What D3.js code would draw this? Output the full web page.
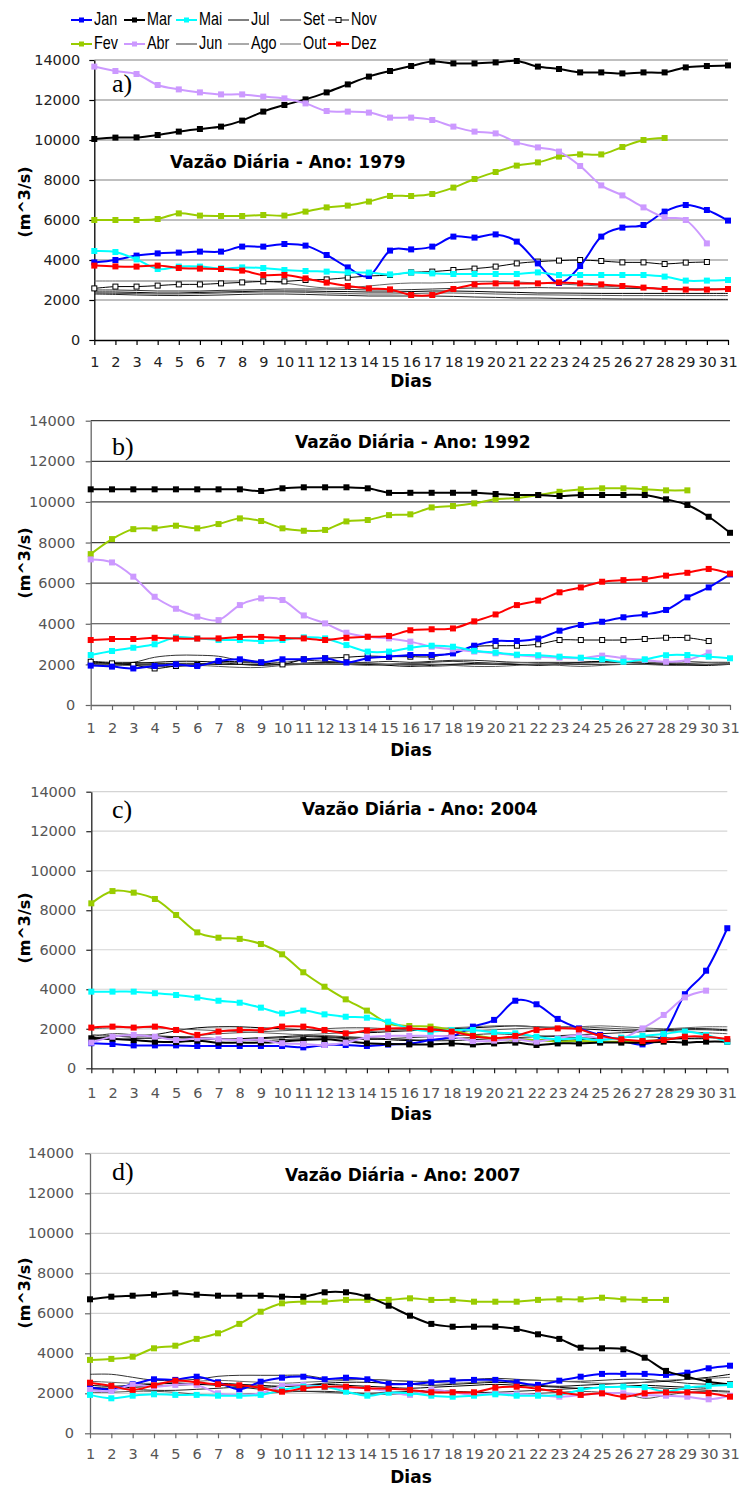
<!DOCTYPE html>
<html>
<head>
<meta charset="utf-8">
<script src="https://cdn.jsdelivr.net/npm/d3@7"></script>
<style>
  body { margin: 0; background: #fff; }
  svg { display: block; }
</style>
</head>
<body>
<svg id="chart" width="739" height="1488"></svg>
<script>
// month names, in legend order
var months = ['Jan', 'Fev', 'Mar', 'Abr', 'Mai', 'Jun', 'Jul', 'Ago', 'Set', 'Out', 'Nov', 'Dez'];
var years = [1979, 1992, 2004, 2007];
var panelLetters = ['a)', 'b)', 'c)', 'd)'];
var yTicks = [0, 2000, 4000, 6000, 8000, 10000, 12000, 14000];
var days = d3.range(1, 32);

// daily flow (m^3/s), one row per month Jan..Dez
var flow1979 = [
  [3880,4000,4220,4330,4370,4420,4420,4670,4670,4800,4720,4250,3630,3200,4470,4530,4670,5170,5120,5280,4920,3830,2850,3700,5170,5620,5750,6420,6750,6500,5970],
  [6000,6000,6000,6050,6330,6220,6200,6200,6250,6220,6420,6630,6720,6920,7200,7200,7300,7620,8050,8400,8720,8880,9170,9280,9280,9650,10000,10100],
  [10050,10120,10130,10250,10420,10550,10670,10970,11420,11750,12030,12380,12780,13170,13450,13700,13920,13830,13830,13880,13950,13670,13550,13380,13380,13330,13380,13380,13630,13700,13730],
  [13670,13450,13300,12750,12530,12380,12280,12280,12170,12080,11830,11450,11420,11370,11120,11120,11000,10670,10420,10330,9880,9630,9420,8700,7730,7230,6630,6130,6000,4830],
  [4450,4400,4030,3550,3670,3670,3580,3630,3600,3500,3450,3420,3380,3370,3280,3370,3330,3300,3300,3300,3300,3380,3250,3250,3250,3250,3250,3170,2970,2970,3000],
  [2500,2500,2480,2450,2450,2450,2480,2500,2520,2550,2550,2550,2530,2500,2500,2520,2550,2580,2600,2600,2600,2620,2600,2600,2600,2580,2570,2560,2550,2550,2550],
  [2400,2400,2380,2350,2350,2380,2400,2420,2450,2450,2450,2430,2420,2400,2400,2420,2450,2450,2430,2400,2380,2350,2350,2340,2330,2330,2330,2330,2330,2330,2330],
  [2350,2330,2320,2300,2300,2320,2350,2380,2400,2400,2380,2350,2320,2300,2300,2320,2350,2350,2330,2300,2280,2260,2250,2240,2230,2220,2220,2220,2220,2220,2220],
  [2300,2280,2250,2230,2220,2230,2250,2280,2300,2300,2280,2250,2230,2200,2200,2200,2200,2180,2150,2130,2100,2100,2080,2070,2060,2050,2050,2040,2030,2030,2030],
  [2950,2950,2950,2950,2950,2950,2950,2950,2930,2850,2700,2600,2620,2700,2800,2850,2850,2880,2930,2930,2900,2850,2800,2750,2700,2650,2620,2580,2560,2550,2550],
  [2580,2670,2670,2720,2780,2780,2830,2880,2930,2930,3000,3030,3120,3200,3250,3380,3420,3500,3570,3670,3830,3920,3970,4000,3950,3880,3880,3800,3870,3900],
  [3720,3680,3670,3720,3600,3570,3550,3470,3250,3250,3080,2870,2700,2580,2530,2250,2250,2550,2780,2830,2830,2830,2880,2830,2780,2700,2620,2550,2520,2520,2550]
];

var flow1992 = [
  [1940,1890,1800,1920,2000,1920,2170,2250,2100,2250,2250,2300,2090,2300,2380,2460,2460,2540,2920,3150,3150,3270,3660,3940,4100,4320,4460,4680,5300,5790,6430],
  [7430,8170,8660,8700,8830,8700,8910,9190,9060,8700,8580,8620,9040,9110,9350,9390,9730,9800,9930,10130,10190,10340,10500,10620,10670,10670,10630,10570,10570],
  [10620,10620,10620,10620,10620,10620,10620,10620,10540,10670,10720,10720,10720,10670,10450,10450,10450,10450,10450,10390,10340,10340,10290,10340,10340,10340,10340,10130,9850,9270,8480],
  [7170,7020,6320,5330,4740,4350,4180,4920,5250,5170,4410,4020,3560,3360,3280,3120,2870,2740,2630,2540,2450,2380,2330,2300,2430,2300,2220,2130,2220,2580],
  [2460,2660,2820,2990,3330,3280,3200,3200,3150,3200,3330,3280,2950,2630,2630,2820,2920,2870,2670,2580,2480,2450,2380,2330,2250,2130,2250,2450,2460,2380,2300],
  [2100,2050,2100,2350,2450,2450,2400,2200,2150,2100,2200,2150,2100,2050,2000,2050,2100,2150,2100,2050,2000,2000,2050,2100,2150,2100,2100,2050,2000,2000,2050],
  [2050,2000,2050,2100,2150,2150,2100,2000,1950,2000,2050,2100,2050,2000,1950,1900,1950,2000,2050,2050,2000,1950,2000,2100,2150,2100,2050,2000,1950,1950,2000],
  [2000,1950,1950,1900,1900,1950,1900,1850,1850,1950,2000,2050,2000,1950,2000,2050,2000,1950,1900,1900,1950,2000,1950,1900,1950,2000,2000,1950,1950,2000,2000],
  [2150,2100,2100,2050,2050,2050,2000,2000,2000,2000,2050,2100,2100,2100,2150,2100,2150,2200,2200,2150,2100,2100,2100,2100,2100,2100,2100,2100,2050,2100,2100],
  [2000,2000,1950,1950,2000,2000,2050,2100,2050,2000,2050,2000,2050,2050,2000,1950,1900,1950,2000,2050,2100,2050,2000,2050,2100,2150,2100,2100,2150,2100,2050],
  [2130,2050,1970,1800,1920,1970,2130,2130,2090,2000,2250,2300,2350,2410,2380,2380,2380,2580,2870,2920,2920,2990,3200,3200,3200,3200,3250,3310,3310,3150],
  [3200,3250,3250,3310,3270,3270,3280,3350,3350,3300,3280,3200,3310,3360,3400,3680,3730,3770,4120,4460,4920,5140,5550,5790,6070,6150,6200,6370,6510,6700,6470]
];

var flow2004 = [
  [1270,1230,1160,1160,1160,1130,1130,1130,1130,1130,1060,1180,1180,1130,1200,1250,1430,1600,2110,2450,3420,3240,2500,2020,1690,1430,1210,1700,3750,4940,7090],
  [8350,8970,8890,8570,7760,6880,6610,6550,6290,5770,4860,4130,3490,2920,2280,2140,2110,1940,1690,1520,1430,1430,1350,1380,1350,1350,1380,1430],
  [1520,1500,1430,1350,1330,1400,1300,1300,1300,1350,1430,1470,1380,1270,1230,1210,1210,1260,1210,1260,1300,1180,1260,1260,1300,1300,1300,1350,1300,1350,1350],
  [1300,1600,1690,1600,1430,1520,1470,1430,1430,1270,1230,1180,1300,1570,1640,1640,1640,1600,1380,1400,1470,1350,1520,1690,1520,1520,2020,2700,3590,3930],
  [3880,3880,3880,3800,3710,3580,3420,3320,3070,2780,2920,2730,2610,2560,2360,2020,1860,1940,1940,1810,1770,1600,1470,1520,1430,1550,1640,1740,1860,1690,1350],
  [1600,1750,1700,1650,1600,1550,1500,1450,1400,1450,1500,1550,1500,1450,1500,1550,1600,1650,1700,1750,1700,1650,1600,1550,1500,1450,1400,1450,1500,1550,1500],
  [1450,1600,1650,1700,1900,2050,2100,2100,2050,2000,1950,1900,1850,1800,1850,1900,1950,2000,2050,2100,2150,2100,2050,2000,1950,1900,1900,1950,2000,2000,1950],
  [1700,1650,1550,1500,1550,1650,1750,1800,1850,1900,1950,2000,2050,2050,2000,1950,1900,1850,1900,1950,2000,2050,2100,2100,2050,2000,1950,1900,1850,1800,1750],
  [1500,1450,1500,1550,1600,1550,1500,1450,1500,1550,1600,1650,1600,1550,1500,1450,1400,1400,1450,1500,1550,1600,1650,1700,1750,1800,1850,1900,1950,1950,1900],
  [2000,2050,2100,2050,2000,1950,1900,1850,1800,1750,1700,1750,1800,1850,1900,1950,2000,2050,2100,2150,2150,2100,2050,2100,2150,2100,2050,2000,2050,2100,2100],
  [1550,1600,1650,1600,1550,1500,1450,1500,1550,1600,1650,1600,1550,1500,1450,1400,1450,1500,1550,1550,1500,1450,1400,1450,1500,1550,1600,1550,1500,1500],
  [2060,2110,2060,2110,1940,1690,1860,1940,1940,2110,2110,1940,1770,1910,2020,2020,1970,1860,1640,1520,1640,1940,2020,1970,1640,1470,1380,1430,1600,1600,1480]
];

var flow2007 = [
  [2300,2200,2450,2700,2670,2830,2550,2200,2580,2780,2830,2700,2780,2700,2470,2470,2550,2630,2670,2670,2550,2420,2630,2830,2970,2970,2970,2920,3030,3250,3380],
  [3670,3720,3830,4250,4380,4720,5000,5470,6080,6500,6580,6580,6670,6670,6670,6750,6670,6670,6580,6580,6580,6670,6700,6700,6780,6700,6670,6670],
  [6700,6830,6880,6930,7000,6930,6880,6880,6880,6830,6830,7050,7050,6830,6380,5880,5470,5330,5330,5330,5220,4950,4720,4280,4250,4200,3780,3120,2830,2580,2450],
  [2170,2120,2420,2330,2420,2420,2000,1920,2000,2370,2420,2330,2250,2250,2080,1920,2170,2050,1920,2000,1950,1920,1830,1920,2000,2000,1920,1880,1830,1700,1880],
  [1920,1750,1880,1950,1920,1920,1880,1880,1920,2170,2330,2330,2080,1880,2030,2000,1880,1830,1880,1950,1880,1880,1920,2170,2300,2330,2300,2080,2280,2370,2420],
  [2950,2950,2800,2650,2650,2700,2850,2900,2900,2900,2900,2750,2700,2700,2650,2600,2600,2650,2700,2750,2700,2650,2600,2600,2650,2700,2700,2600,2500,2450,2400],
  [2200,2250,2300,2350,2400,2450,2500,2450,2400,2350,2400,2500,2550,2550,2500,2450,2400,2450,2500,2550,2500,2400,2350,2400,2450,2500,2550,2600,2700,2800,2950],
  [2050,2050,2100,2100,2050,1950,1900,1950,2000,2050,2100,2050,2000,1950,1950,2000,2050,2100,2050,2000,1950,2000,2050,2100,2050,2000,1750,1900,2050,2100,2050],
  [2300,2250,2200,2150,2150,2200,2250,2300,2200,2150,2100,2100,2050,2000,2050,2100,2150,2100,2050,2050,2100,2150,2200,2250,2300,2350,2300,2250,2200,2150,2100],
  [2600,2550,2500,2500,2550,2600,2650,2600,2550,2500,2550,2600,2650,2700,2650,2600,2550,2500,2550,2600,2650,2650,2600,2550,2500,2500,2550,2650,2700,2750,2800],
  [2400,2350,2400,2450,2500,2450,2400,2350,2300,2350,2400,2450,2400,2350,2300,2250,2300,2350,2400,2450,2400,2350,2300,2250,2300,2350,2400,2350,2300,2250],
  [2530,2370,2170,2400,2630,2550,2450,2400,2280,2080,2250,2330,2330,2250,2230,2170,2050,2050,2050,2280,2330,2230,2050,1920,2000,1830,2000,2050,2050,2000,1830]
];

var allFlows = [flow1979, flow1992, flow2004, flow2007];

//-----------------------------------------------------------------------------
// series look
var seriesStyle = [
  {color: '#0000ff', width: 2, marker: 'fill'},
  {color: '#99cc00', width: 2, marker: 'fill'},
  {color: '#000000', width: 2, marker: 'fill'},
  {color: '#cc99ff', width: 2, marker: 'fill'},
  {color: '#00ffff', width: 2, marker: 'fill'},
  {color: '#333333', width: 1, marker: 'none'},
  {color: '#000000', width: 1, marker: 'none'},
  {color: '#555555', width: 1, marker: 'none'},
  {color: '#222222', width: 1, marker: 'none'},
  {color: '#666666', width: 1, marker: 'none'},
  {color: '#000000', width: 1, marker: 'open'},
  {color: '#ff0000', width: 2, marker: 'fill'}
];
// draw thin ones first, coloured ones on top
var drawOrder = [5, 6, 7, 8, 9, 10, 0, 1, 2, 3, 4, 11];

// panel frames (plot area in page pixels)
var panels = [
  {x0: 94.3, x1: 728, yTop: 60,    yBot: 340,    grid: '#808080', axis: '#000', tickColor: '#222', pad: 9,    xPad: 12, titleX: 170, titleY: 168,  letterY: 92,   yLabY: 202,  diasY: 387, novMarks: true},
  {x0: 90.7, x1: 730, yTop: 420.7, yBot: 705,    grid: '#404040', axis: '#666', tickColor: '#555', pad: 10.5, xPad: 13, titleX: 295, titleY: 448,  letterY: 455,  yLabY: 563,  diasY: 756, novMarks: true},
  {x0: 91.3, x1: 727.3, yTop: 791.7, yBot: 1068.3, grid: '#d4d4d4', axis: '#222', tickColor: '#555', pad: 10,   xPad: 14, titleX: 302, titleY: 815,  letterY: 818,  yLabY: 928,  diasY: 1120, novMarks: false},
  {x0: 90,   x1: 730, yTop: 1153.3, yBot: 1433.3, grid: '#d4d4d4', axis: '#666', tickColor: '#555', pad: 11,   xPad: 10, titleX: 285, titleY: 1181, letterY: 1180, yLabY: 1293, diasY: 1483, novMarks: false}
];

var svg = d3.select('#chart');

//-----------------------------------------------------------------------------
function drawPanel(p, i) {
  var flows = allFlows[i];
  var g = svg.append('g');

  var x = d3.scaleLinear().domain([1, 31]).range([p.x0, p.x1]);
  var y = d3.scaleLinear().domain([0, 14000]).range([p.yBot, p.yTop]);

  // horizontal grid
  g.selectAll('.grid')
    .data(yTicks.slice(1))
    .enter().append('line')
    .attr('class', 'grid')
    .attr('x1', p.x0).attr('x2', p.x1)
    .attr('y1', function(d) { return y(d); })
    .attr('y2', function(d) { return y(d); })
    .style('stroke', p.grid)
    .style('stroke-width', 1.2);

  // axes
  var yAxis = g.append('g')
    .attr('transform', 'translate(' + p.x0 + ',0)')
    .call(d3.axisLeft(y).tickValues(yTicks).tickSize(5).tickPadding(p.pad).tickSizeOuter(0).tickFormat(d3.format('d')));
  var xAxis = g.append('g')
    .attr('transform', 'translate(0,' + p.yBot + ')')
    .call(d3.axisBottom(x).tickValues(days).tickSize(5).tickPadding(p.xPad).tickSizeOuter(0).tickFormat(d3.format('d')));

  [yAxis, xAxis].forEach(function(a) {
    a.select('.domain').style('stroke', p.axis).style('stroke-width', 1.3);
    a.selectAll('.tick line').style('stroke', p.axis).style('stroke-width', 1.2);
    a.selectAll('.tick text')
      .style('font-family', '"DejaVu Sans", Verdana, sans-serif')
      .style('font-size', '14.5px')
      .style('fill', p.tickColor);
  });

  // series
  var line = d3.line()
    .x(function(d, k) { return x(k + 1); })
    .y(function(d) { return y(d); })
    .curve(d3.curveCardinal.tension(0));

  drawOrder.forEach(function(m) {
    var vals = flows[m];
    var st = seriesStyle[m];
    g.append('path')
      .datum(vals)
      .attr('d', line)
      .style('fill', 'none')
      .style('stroke', st.color)
      .style('stroke-width', st.width);

    if (st.marker === 'none') return;
    if (st.marker === 'open' && !p.novMarks) return;
    var s = st.marker === 'open' ? 5 : 6;
    g.selectAll('.mk' + m)
      .data(vals)
      .enter().append('rect')
      .attr('x', function(d, k) { return x(k + 1) - s / 2; })
      .attr('y', function(d) { return y(d) - s / 2; })
      .attr('width', s).attr('height', s)
      .style('fill', st.marker === 'open' ? '#fff' : st.color)
      .style('stroke', st.marker === 'open' ? '#000' : 'none')
      .style('stroke-width', 1);
  });

  // texts
  g.append('text')
    .attr('x', 112).attr('y', p.letterY)
    .style('font-family', '"Liberation Serif", "Times New Roman", serif')
    .style('font-size', '26px')
    .text(panelLetters[i]);

  g.append('text')
    .attr('x', p.titleX).attr('y', p.titleY)
    .style('font-family', '"DejaVu Sans", Verdana, sans-serif')
    .style('font-weight', 'bold')
    .style('font-size', '17px')
    .text('Vazão Diária - Ano: ' + years[i]);

  g.append('text')
    .attr('transform', 'translate(30,' + p.yLabY + ') rotate(-90)')
    .attr('text-anchor', 'middle')
    .style('font-family', '"DejaVu Sans", Verdana, sans-serif')
    .style('font-weight', 'bold')
    .style('font-size', '16px')
    .text('(m^3/s)');

  g.append('text')
    .attr('x', 411).attr('y', p.diasY)
    .attr('text-anchor', 'middle')
    .style('font-family', '"DejaVu Sans", Verdana, sans-serif')
    .style('font-weight', 'bold')
    .style('font-size', '17px')
    .text('Dias');
}

panels.forEach(drawPanel);

//-----------------------------------------------------------------------------
// legend, two rows
var legendCols = [71, 124, 176, 228, 280, 328];
var legendRows = [20, 44];
var legendOrder = [0, 2, 4, 6, 8, 10, 1, 3, 5, 7, 9, 11];

var leg = svg.append('g');
legendOrder.forEach(function(m, k) {
  var lx = legendCols[k % 6];
  var ly = legendRows[Math.floor(k / 6)];
  var st = seriesStyle[m];
  leg.append('line')
    .attr('x1', lx).attr('x2', lx + 21)
    .attr('y1', ly).attr('y2', ly)
    .style('stroke', st.color)
    .style('stroke-width', st.width === 2 ? 2 : 1);
  if (st.marker !== 'none') {
    var s = 5;
    leg.append('rect')
      .attr('x', lx + 10.5 - s / 2).attr('y', ly - s / 2)
      .attr('width', s).attr('height', s)
      .style('fill', st.marker === 'open' ? '#fff' : st.color)
      .style('stroke', st.marker === 'open' ? '#000' : 'none');
  }
  leg.append('text')
    .attr('transform', 'translate(' + (lx + 23) + ',' + (ly + 5) + ') scale(0.8,1)')
    .style('font-family', '"Liberation Sans Narrow", "Arial Narrow", sans-serif')
    .style('font-size', '18px')
    .text(months[m]);
});
</script>
</body>
</html>
